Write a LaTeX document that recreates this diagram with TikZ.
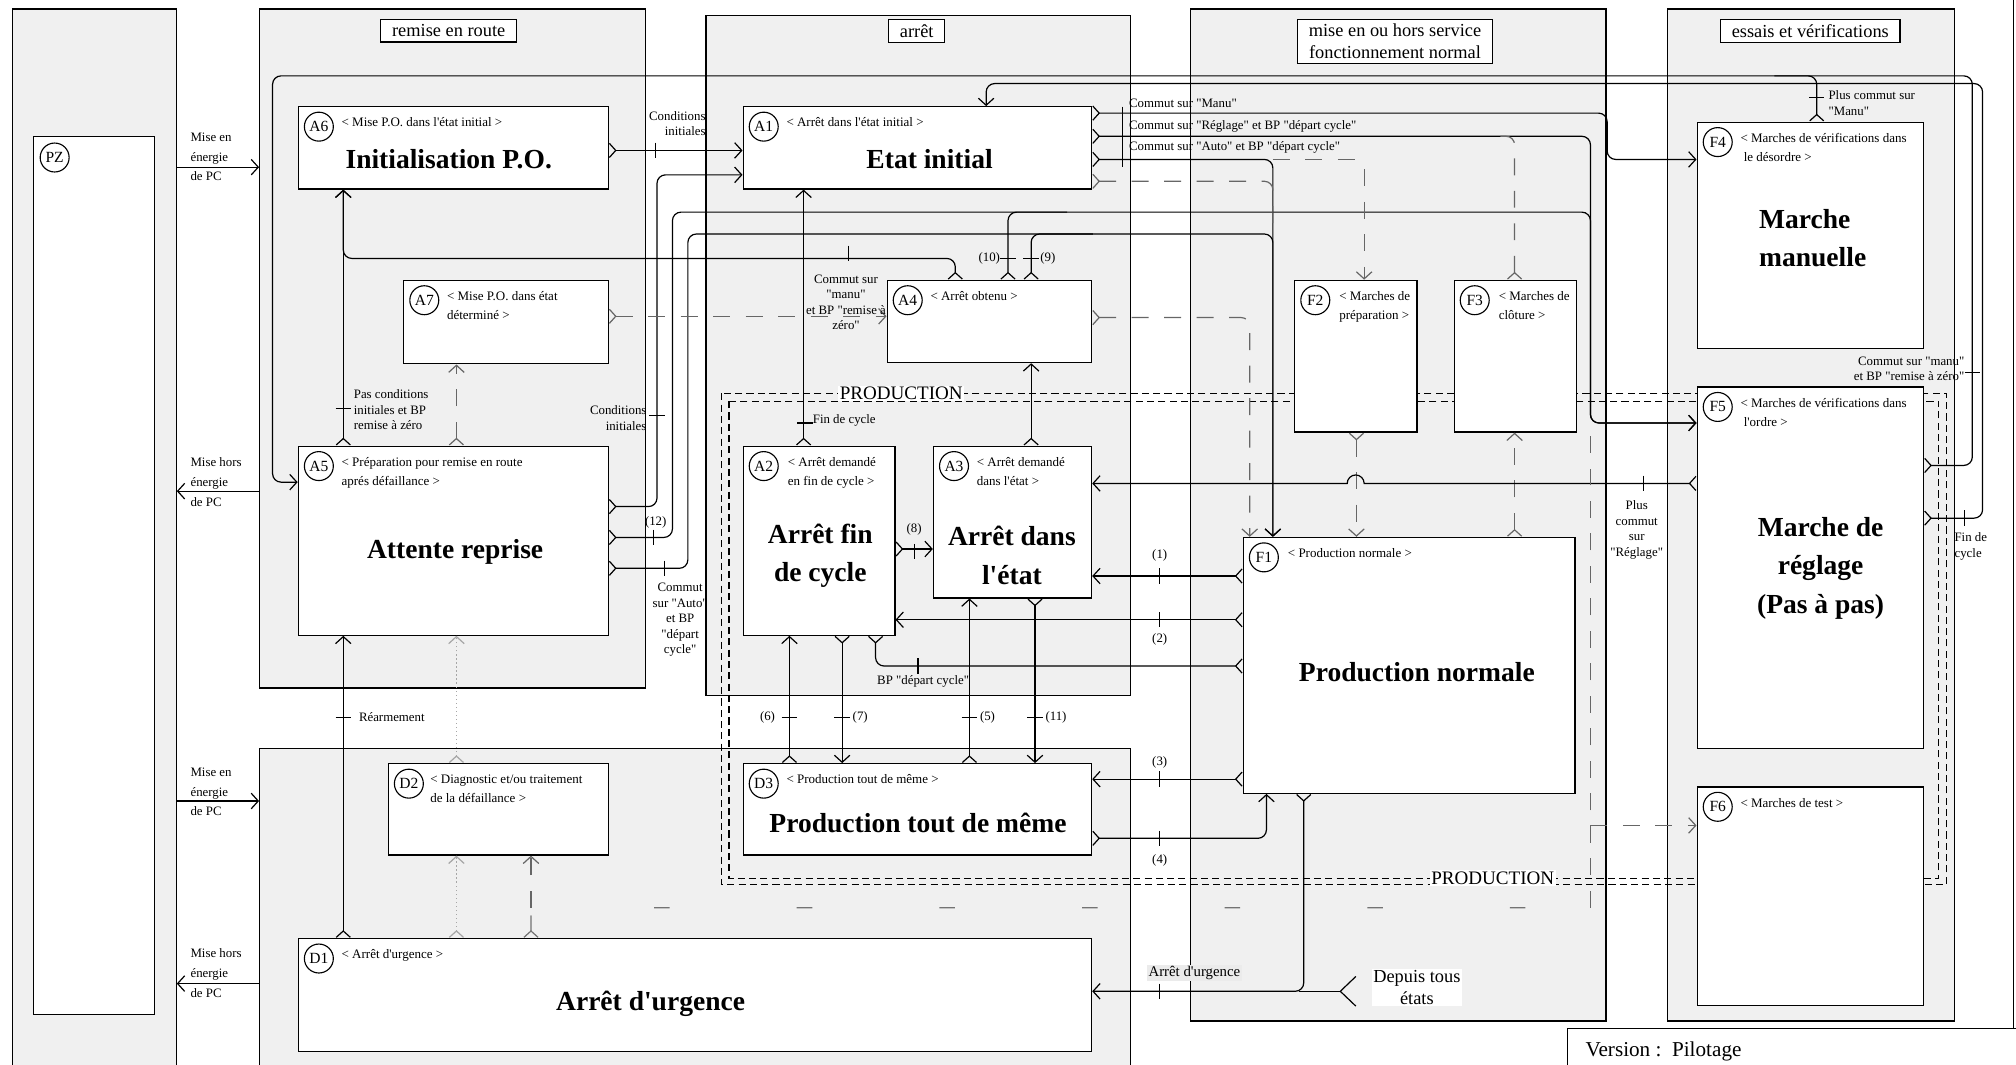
\documentclass[tikz,border=0pt]{standalone}
\usepackage{fontspec}
\setmainfont{Liberation Serif}[Ligatures=TeXOff]
\usetikzlibrary{arrows.meta,positioning,fit}

\tikzset{
  panel/.style={draw, fill=black!6, line width=0.9pt, inner sep=0pt},
  etat/.style={draw, fill=white, line width=0.9pt, inner sep=0pt},
  rubrique/.style={draw, fill=white, line width=0.9pt, align=center, inner xsep=8pt, inner ysep=3.5pt, font=\fontsize{13}{15}\selectfont},
  tag/.style={circle, draw, line width=0.8pt, inner sep=0pt, minimum size=20.5pt, font=\fontsize{11}{11}\selectfont},
  desc/.style={anchor=north west, align=left, inner sep=0pt, font=\fontsize{9.2}{13.6}\selectfont},
  titre/.style={align=center, inner sep=0pt, font=\fontsize{19.5}{27}\selectfont\bfseries},
  lbl/.style={inner sep=0pt, font=\fontsize{9.1}{11}\selectfont},
  ligne/.style={line width=0.85pt, rounded corners=6pt},
  tr/.style={ligne, {Straight Barb[reversed,length=4.5pt,width=10pt]}-{Straight Barb[length=5pt,width=11pt]}},
  vers/.style={ligne, -{Straight Barb[length=5pt,width=11pt]}},
  depart/.style={ligne, {Straight Barb[reversed,length=4.5pt,width=10pt]}-},
  tiret/.style={dash pattern=on 12pt off 11pt, draw=black!60},
  tiretlong/.style={dash pattern=on 11pt off 90pt, draw=black!55},
  pointille/.style={dotted, draw=black!35},
  prod/.style={dash pattern=on 5pt off 3pt, line width=0.8pt},
  barre/.style={line width=0.85pt}
}
% condition marks
\newcommand{\tickv}[2]{\draw[barre] (#1,#2-6) -- (#1,#2+6);}
\newcommand{\tickh}[2]{\draw[barre] (#1-6,#2) -- (#1+6,#2);}

\begin{document}
\begin{tikzpicture}[x=0.032cm, y=-0.032cm]
\useasboundingbox (0,0) rectangle (1568,828);

% columns of the guide
\node[panel, fit={(10,7) (137,850)}] (PZp) {};
\node[panel, fit={(202,7) (502,535)}] (REp) {};
\node[panel, fit={(549,12) (879,541)}] (ARp) {};
\node[panel, fit={(926,7) (1249,794)}] (MSp) {};
\node[panel, fit={(1297,7) (1520,794)}] (EVp) {};
\node[panel, fit={(202,582) (879,850)}] (Dp) {};

\node[rubrique] (rRE) at (349,24) {remise en route};
\node[rubrique] (rAR) at (713,24) {arrêt};
\node[rubrique] (rMS) at (1085,32) {mise en ou hors service\\fonctionnement normal};
\node[rubrique] (rEV) at (1408,24) {essais et vérifications};

% production zone
\draw[prod] (561,306) rectangle (1514,688);
\draw[prod] (567,312) rectangle (1508,683);

% states
\node[etat, fit={(26,106) (120,789)}] (PZ) {};
\node[etat, fit={(232,83) (473,147)}] (A6) {};
\node[etat, fit={(314,218) (473,283)}] (A7) {};
\node[etat, fit={(232,347) (473,494)}] (A5) {};
\node[etat, fit={(578,83) (849,147)}] (A1) {};
\node[etat, fit={(690,218) (849,282)}] (A4) {};
\node[etat, fit={(578,347) (696,494)}] (A2) {};
\node[etat, fit={(726,347) (849,465)}] (A3) {};
\node[etat, fit={(578,594) (849,665)}] (D3) {};
\node[etat, fit={(302,594) (473,665)}] (D2) {};
\node[etat, fit={(232,730) (849,818)}] (D1) {};
\node[etat, fit={(967,418) (1225,617)}] (F1) {};
\node[etat, fit={(1007,218) (1102,336)}] (F2) {};
\node[etat, fit={(1131,218) (1226,336)}] (F3) {};
\node[etat, fit={(1320,95) (1496,271)}] (F4) {};
\node[etat, fit={(1320,301) (1496,582)}] (F5) {};
\node[etat, fit={(1320,612) (1496,782)}] (F6) {};

\node[tag] (tPZ) at ([shift={(17,17)}]PZ.north west) {PZ};
\node[tag] (tA6) at ([shift={(16.5,16)}]A6.north west) {A6};
\node[tag] (tA7) at ([shift={(16.5,16)}]A7.north west) {A7};
\node[tag] (tA5) at ([shift={(16.5,16)}]A5.north west) {A5};
\node[tag] (tA1) at ([shift={(16.5,16)}]A1.north west) {A1};
\node[tag] (tA4) at ([shift={(16.5,16)}]A4.north west) {A4};
\node[tag] (tA2) at ([shift={(16.5,16)}]A2.north west) {A2};
\node[tag] (tA3) at ([shift={(16.5,16)}]A3.north west) {A3};
\node[tag] (tD3) at ([shift={(16.5,16)}]D3.north west) {D3};
\node[tag] (tD2) at ([shift={(16.5,16)}]D2.north west) {D2};
\node[tag] (tD1) at ([shift={(16.5,16)}]D1.north west) {D1};
\node[tag] (tF1) at ([shift={(16.5,16)}]F1.north west) {F1};
\node[tag] (tF2) at ([shift={(16.5,16)}]F2.north west) {F2};
\node[tag] (tF3) at ([shift={(16.5,16)}]F3.north west) {F3};
\node[tag] (tF4) at ([shift={(16.5,16)}]F4.north west) {F4};
\node[tag] (tF5) at ([shift={(16.5,16)}]F5.north west) {F5};
\node[tag] (tF6) at ([shift={(16.5,16)}]F6.north west) {F6};

\node[desc] (dA6) at ([shift={(34,9)}]A6.north west) {< Mise P.O. dans l'état initial >};
\node[desc] (dA7) at ([shift={(34,9)}]A7.north west) {< Mise P.O. dans état\\déterminé >};
\node[desc] (dA5) at ([shift={(34,9)}]A5.north west) {< Préparation pour remise en route\\aprés défaillance >};
\node[desc] (dA1) at ([shift={(34,9)}]A1.north west) {< Arrêt dans l'état initial >};
\node[desc] (dA4) at ([shift={(34,9)}]A4.north west) {< Arrêt obtenu >};
\node[desc] (dA2) at ([shift={(35,9)}]A2.north west) {< Arrêt demandé\\en fin de cycle >};
\node[desc] (dA3) at ([shift={(34,9)}]A3.north west) {< Arrêt demandé\\dans l'état >};
\node[desc] (dD3) at ([shift={(34,9)}]D3.north west) {< Production tout de même >};
\node[desc] (dD2) at ([shift={(33,9)}]D2.north west) {< Diagnostic et/ou traitement\\de la défaillance >};
\node[desc] (dD1) at ([shift={(34,9)}]D1.north west) {< Arrêt d'urgence >};
\node[desc] (dF1) at ([shift={(35,9)}]F1.north west) {< Production normale >};
\node[desc] (dF2) at ([shift={(35,9)}]F2.north west) {< Marches de\\préparation >};
\node[desc] (dF3) at ([shift={(35,9)}]F3.north west) {< Marches de\\clôture >};
\node[desc] (dF4) at ([shift={(34,9)}]F4.north west) {< Marches de vérifications dans\\\ le désordre >};
\node[desc] (dF5) at ([shift={(34,9)}]F5.north west) {< Marches de vérifications dans\\\ l'ordre >};
\node[desc] (dF6) at ([shift={(34,9)}]F6.north west) {< Marches de test >};

\node[titre] (nA6) at (349,124) {Initialisation P.O.};
\node[titre] (nA1) at (723,124) {Etat initial};
\node[titre] (nA5) at (354,429) {Attente reprise};
\node[titre] (nA2) at (638,432) {Arrêt fin\\de cycle};
\node[titre] (nA3) at (787,432) {Arrêt dans\\l'état};
\node[titre] (nD3) at (714,640) {Production tout de même};
\node[titre] (nD1) at (506,781) {Arrêt d'urgence};
\node[titre] (nF1) at (1102,523) {Production normale};
\node[titre, align=left, anchor=west] (nF4) at (1368,185) {Marche\\manuelle};
\node[titre] (nF5) at (1416,442) {Marche de\\réglage\\(Pas à pas)};

\node[fill=white, inner sep=1pt, font=\fontsize{13.5}{15}\selectfont] (pH) at (701,306) {PRODUCTION};
\node[fill=white, inner sep=1pt, font=\fontsize{13.5}{15}\selectfont] (pB) at (1161,683) {PRODUCTION};

% power on / off
\draw[vers] (PZp.east |- 0,130) -- (REp.west |- 0,130);
\draw[vers] (REp.west |- 0,382) -- (PZp.east |- 0,382);
\draw[vers] (PZp.east |- 0,623) -- (Dp.west |- 0,623);
\draw[vers] (Dp.west |- 0,765) -- (PZp.east |- 0,765);
\node[lbl, anchor=west, align=left, font=\fontsize{9.1}{14}\selectfont] (m1) at (148,122) {Mise en\\énergie\\de PC};
\node[lbl, anchor=west, align=left, font=\fontsize{9.1}{14}\selectfont] (m2) at (148,375) {Mise hors\\énergie\\de PC};
\node[lbl, anchor=west, align=left, font=\fontsize{9.1}{14}\selectfont] (m3) at (148,616) {Mise en\\énergie\\de PC};
\node[lbl, anchor=west, align=left, font=\fontsize{9.1}{14}\selectfont] (m4) at (148,757) {Mise hors\\énergie\\de PC};

% remise en route
\draw[tr] (A6.east |- 0,117) -- (A1.west |- 0,117);
\tickv{510}{117}
\node[lbl, anchor=east, align=right] (c1) at (549,96) {Conditions\\initiales};
\draw[tr] (A5.east |- 0,394) -- (511,394) -- (511,136) -- (A1.west |- 0,136);
\tickh{511}{323}
\node[lbl, anchor=east, align=right] (c2) at (503,325) {Conditions\\initiales};
\draw[tr] (A5.east |- 0,418) -- (523,418) -- (523,165) -- (1237,165) -- (1237,329) -- (F5.west |- 0,329);
\tickv{508}{418}
\node[lbl] (c12) at (510,406) {(12)};
\draw[tr] (A5.east |- 0,442) -- (535,442) -- (535,182) -- (990,182) -- (990,0 |- F1.north);
\tickv{517}{442}
\node[lbl, align=center] (c3) at (529,482) {Commut\\sur "Auto"\\et BP\\"départ\\cycle"};
\draw[tr] (267,0 |- A5.north) -- (267,0 |- A6.south);
\tickh{267}{318}
\node[lbl, anchor=north west, align=left] (c4) at (275,303) {Pas conditions\\initiales et BP\\remise à zéro};
\draw[tr, tiret] (355,0 |- A5.north) -- (355,0 |- A7.south);
\draw[tr, tiret] (A7.east |- 0,246) -- (A4.west |- 0,246);
\draw[tr] (267,0 |- D1.north) -- (267,0 |- A5.south);
\tickh{267}{558}
\node[lbl, anchor=west] (c5) at (279,558) {Réarmement};
\draw[tr, pointille] (355,0 |- D2.north) -- (355,0 |- A5.south);
\draw[tr, pointille] (355,0 |- D1.north) -- (355,0 |- D2.south);

% arret
\draw[tr] (625,0 |- A2.north) -- (625,0 |- A1.south);
\tickh{626}{329}
\node[lbl, anchor=west] (c6) at (632,327) {Fin de cycle};
\draw[tr] (802,0 |- A3.north) -- (802,0 |- A4.south);
\draw[tr] (743,0 |- A4.north) -- (743,201) -- (267,201) -- (267,0 |- A6.south);
\tickv{660}{197}
\node[lbl, align=center] (c7) at (658,235) {Commut sur\\"manu"\\et BP "remise à\\zéro"};
\draw[depart] (784,0 |- A4.north) -- (784,165) -- (830,165);
\draw[depart] (802,0 |- A4.north) -- (802,182) -- (850,182);
\tickh{784}{201}
\tickh{802}{201}
\node[lbl, anchor=east] (c10) at (778,201) {(10)};
\node[lbl, anchor=west] (c9) at (809,201) {(9)};
\draw[tr] (A2.east |- 0,427) -- (A3.west |- 0,427);
\tickv{711}{429}
\node[lbl] (c8) at (711,412) {(8)};

% from A1
\draw[tr] (A1.east |- 0,88) -- (1250,88) -- (1250,124) -- (F4.west |- 0,124);
\draw[tr] (A1.east |- 0,106) -- (1237,106) -- (1237,329) -- (F5.west |- 0,329);
\draw[tr] (A1.east |- 0,124) -- (990,124) -- (990,0 |- F1.north);
\draw[vers, tiret] (990,124) -- (1061,124) -- (1061,0 |- F2.north);
\draw[depart, tiret] (A1.east |- 0,141) -- (990,141) -- (990,175);
\draw[barre] (873,83) -- (873,130);
\node[lbl, anchor=west] (c11) at (878,80) {Commut sur "Manu"};
\node[lbl, anchor=west] (c13) at (878,98) {Commut sur "Réglage" et BP "départ cycle"};
\node[lbl, anchor=west] (c14) at (878,115) {Commut sur "Auto" et BP "départ cycle"};
\draw[tr, tiret] (A4.east |- 0,247) -- (972,247) -- (972,0 |- F1.north);

% production
\draw[tr, tiret] (1055,0 |- F2.south) -- (1055,0 |- F1.north);
\draw[tr, tiret] (1178,0 |- F1.north) -- (1178,0 |- F3.south);
\draw[depart, tiret] (1178,0 |- F3.north) -- (1178,106) -- (1160,106);
\draw[tr, sharp corners] (F5.west |- 0,376) -- (1061,376) arc[start angle=0, end angle=180, radius=6pt] -- (A3.east |- 0,376);
\tickv{1278}{376}
\node[lbl, align=center] (c15) at (1273,412) {Plus\\commut\\sur\\"Réglage"};
\draw[tr] (F1.west |- 0,448) -- (A3.east |- 0,448);
\tickv{902}{448}
\node[lbl] (n1) at (902,432) {(1)};
\draw[tr] (F1.west |- 0,482) -- (A2.east |- 0,482);
\tickv{902}{482}
\node[lbl] (n2) at (902,497) {(2)};
\draw[ligne, {Straight Barb[reversed,length=4.5pt,width=10pt]}-{Straight Barb[reversed,length=4.5pt,width=10pt]}] (681,0 |- A2.south) -- (681,518) -- (F1.west |- 0,518);
\tickv{714}{518}
\node[lbl] (c16) at (718,530) {BP "départ cycle"};
\draw[tr] (614,0 |- D3.north) -- (614,0 |- A2.south);
\draw[tr] (655,0 |- A2.south) -- (655,0 |- D3.north);
\draw[tr] (754,0 |- D3.north) -- (754,0 |- A3.south);
\draw[tr] (805,0 |- A3.south) -- (805,0 |- D3.north);
\tickh{614}{558}
\tickh{655}{558}
\tickh{754}{558}
\tickh{805}{558}
\node[lbl, anchor=east] (n6) at (603,558) {(6)};
\node[lbl, anchor=west] (n7) at (663,558) {(7)};
\node[lbl, anchor=west] (n5) at (762,558) {(5)};
\node[lbl, anchor=west] (n11) at (813,558) {(11)};
\draw[tr] (F1.west |- 0,606) -- (D3.east |- 0,606);
\tickv{902}{606}
\node[lbl] (n3) at (902,593) {(3)};
\draw[tr] (D3.east |- 0,652) -- (985,652) -- (985,0 |- F1.south);
\tickv{902}{652}
\node[lbl] (n4) at (902,669) {(4)};

% emergency
\draw[tr] (1014,0 |- F1.south) -- (1014,771) -- (D1.east |- 0,771);
\tickv{902}{771}
\node[lbl, fill=black!8, inner sep=1pt, font=\fontsize{10.5}{12}\selectfont] (c17) at (929,757) {Arrêt d'urgence};
\node[fill=white, inner sep=1pt, align=center, font=\fontsize{13}{15}\selectfont] (dep) at (1102,768) {Depuis tous\\états};
\coordinate (fork) at (1055,771);
\draw[ligne, {Straight Barb[reversed,length=11pt,width=21pt]}-] (fork) -- (1010,771);
\draw[depart, tiretlong] (413,0 |- D1.north) -- (413,706) -- (1237,706);
\draw[vers, tiret] (413,706) -- (413,0 |- D2.south);
\draw[ligne, tiret] (1237,706) -- (1237,335);
\draw[vers, tiret] (1237,642) -- (F6.west |- 0,642);

% tests and checks
\draw[tr] (F5.east |- 0,362) -- (1534,362) -- (1534,59) -- (212,59) -- (212,375) -- (A5.west |- 0,375);
\tickh{1534}{290}
\node[lbl, anchor=east, align=right] (c18) at (1528,287) {Commut sur "manu"\\et BP "remise à zéro"};
\draw[depart] (1413,0 |- F4.north) -- (1413,59) -- (1380,59);
\tickh{1413}{76}
\node[lbl, anchor=west, align=left] (c19) at (1422,80) {Plus commut sur\\"Manu"};
\draw[tr] (F5.east |- 0,403) -- (1542,403) -- (1542,65) -- (767,65) -- (767,0 |- A1.north);
\tickv{1528}{403}
\node[lbl, anchor=west, align=left] (c20) at (1520,425) {Fin de\\cycle};

% frame
\draw[line width=0.9pt] (1566,0) -- (1566,800);
\node[draw, line width=0.9pt, fill=white, inner sep=0pt, fit={(1219,800) (1590,850)}] (ver) {};
\node[anchor=west, inner sep=0pt, font=\fontsize{15}{17}\selectfont] (vtxt) at (1233,818) {Version :\ \ Pilotage};
\end{tikzpicture}
\end{document}
